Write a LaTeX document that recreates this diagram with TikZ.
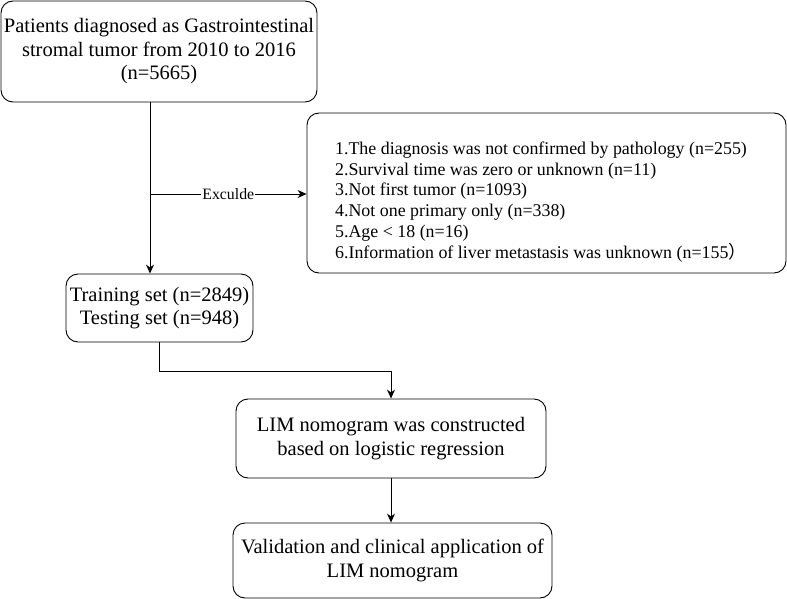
\documentclass[tikz,border=0pt]{standalone}
\usepackage{fontspec}
\setmainfont{Liberation Serif}
\newfontfamily\cjk{Noto Sans CJK SC}
\usepackage{tikz}
\usetikzlibrary{positioning,calc,arrows.meta}

\begin{document}
\begin{tikzpicture}[
    x=1pt, y=-1pt,
    stagebox/.style={rectangle, draw, line width=0.9pt, rounded corners=12pt, align=center, inner sep=0pt},
    arrow/.style={-{Stealth[length=9pt,width=8pt]}, line width=0.9pt},
    bigtext/.style={font=\fontsize{20.5}{23.5}\selectfont},
    smalltext/.style={font=\fontsize{17.9}{20.8}\selectfont}
]
    \useasboundingbox (0,0) rectangle (787,599);

    % Patients
    \node[stagebox, bigtext, minimum width=316pt, minimum height=101pt] (pat) at (159,51.5) {
        Patients diagnosed as Gastrointestinal\\
        stromal tumor from 2010 to 2016\\
        (n=5665)
    };

    % Exclusion criteria
    \node[stagebox, minimum width=479pt, minimum height=160pt] (excl) at (546.5,193) {};
    \node[smalltext, align=left, inner sep=0pt] (excltext) at (541,202) {
        1.The diagnosis was not confirmed by pathology (n=255)\\
        2.Survival time was zero or unknown (n=11)\\
        3.Not first tumor (n=1093)\\
        4.Not one primary only (n=338)\\
        5.Age < 18 (n=16)\\
        6.Information of liver metastasis was unknown (n=155{\cjk ）}
    };

    % Training / testing
    \node[stagebox, bigtext, minimum width=187pt, minimum height=68pt] (train) at (159.5,308) {
        Training set (n=2849)\\
        Testing set (n=948)
    };

    % Nomogram
    \node[stagebox, bigtext, minimum width=310pt, minimum height=79pt] (lim) at (391,438.5) {
        LIM nomogram was constructed\\
        based on logistic regression
    };

    % Validation
    \node[stagebox, bigtext, minimum width=319pt, minimum height=75pt] (valid) at (392.5,560.5) {
        Validation and clinical application of\\
        LIM nomogram
    };

    \coordinate (split) at (150,194);
    \draw[arrow] (pat.south -| split) -- (train.north -| split);
    \draw[arrow] (split) -- node[fill=white, inner sep=1pt, font=\fontsize{15.8}{18}\selectfont] {Exculde} (excl.west |- split);
    \draw[arrow] (train.south) -- ++(0,29) -| (lim.north);
    \draw[arrow] (lim.south) -- (lim.south |- valid.north);
\end{tikzpicture}
\end{document}
